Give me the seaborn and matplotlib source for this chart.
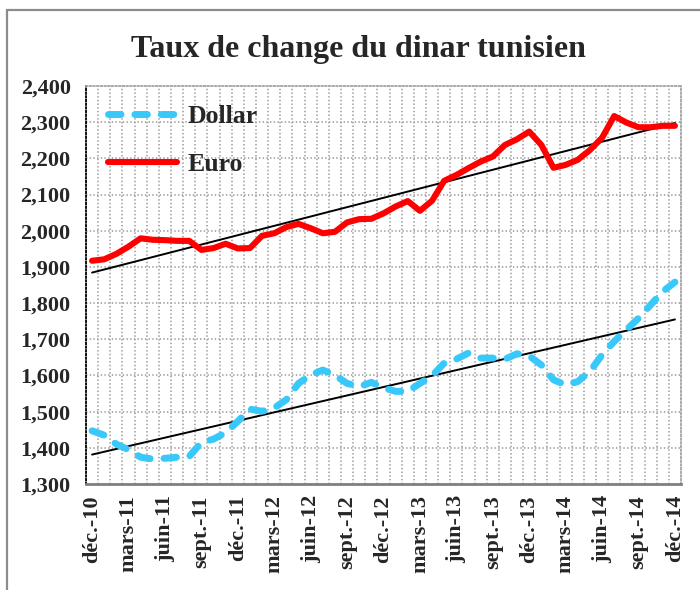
import numpy as np
import pandas as pd
import seaborn as sns
import matplotlib.pyplot as plt
from matplotlib.lines import Line2D
from matplotlib.ticker import FixedLocator, FuncFormatter

# taux mensuels, déc. 2010 -> déc. 2014
dollar = [1447, 1435, 1410, 1395, 1374, 1369, 1371, 1374, 1376, 1415,
          1424, 1442, 1473, 1507, 1501, 1510, 1533, 1578, 1601, 1615,
          1601, 1578, 1569, 1581, 1566, 1556, 1556, 1578, 1599, 1634,
          1645, 1662, 1648, 1648, 1645, 1660, 1654, 1629, 1588, 1574,
          1583, 1611, 1657, 1694, 1726, 1758, 1795, 1832, 1858]
euro = [1917, 1921, 1936, 1956, 1979, 1975, 1974, 1972, 1972, 1947,
        1952, 1964, 1951, 1952, 1986, 1993, 2010, 2019, 2007, 1993,
        1997, 2023, 2032, 2033, 2048, 2067, 2082, 2055, 2083, 2138,
        2154, 2173, 2191, 2205, 2237, 2253, 2274, 2237, 2174, 2182,
        2196, 2223, 2257, 2317, 2299, 2286, 2286, 2290, 2290]
tick_labels = ["déc.-10", "mars-11", "juin-11", "sept.-11", "déc.-11",
               "mars-12", "juin-12", "sept.-12", "déc.-12", "mars-13",
               "juin-13", "sept.-13", "déc.-13", "mars-14", "juin-14",
               "sept.-14", "déc.-14"]

df = pd.DataFrame({"mois": np.arange(len(euro)), "Dollar": dollar, "Euro": euro})

sns.set_style("white")
plt.rcParams['font.family'] = ['Liberation Serif', 'DejaVu Serif']
plt.rcParams['font.weight'] = 'bold'
plt.rcParams['lines.scale_dashes'] = False

fig = plt.figure(figsize=(7, 5.9), dpi=100)
ax = fig.add_axes([86/700, 1-484/590, 595/700, 398/590])

grid_col = '#a6a6a6'
ax.set_xlim(-0.5, len(euro) - 0.5)
ax.set_ylim(1300, 2400)
ax.xaxis.set_minor_locator(FixedLocator(np.arange(-0.5, len(euro), 1)))
ax.xaxis.set_major_locator(FixedLocator(np.arange(0, len(euro), 3)))
ax.set_yticks(np.arange(1300, 2401, 100))
ax.grid(which='minor', axis='x', color=grid_col, linestyle=':', linewidth=1.3)
ax.grid(which='major', axis='y', color=grid_col, linestyle=':', linewidth=1.3)
ax.set_axisbelow(True)

# droites de tendance
sns.regplot(data=df, x="mois", y="Euro", scatter=False, ci=None, ax=ax,
            color='black', line_kws={'linewidth': 1.4})
sns.regplot(data=df, x="mois", y="Dollar", scatter=False, ci=None, ax=ax,
            color='black', line_kws={'linewidth': 1.4})

sns.lineplot(data=df, x="mois", y="Dollar", ax=ax, color='#38c9fa', linewidth=5)
ld = ax.lines[-1]
ld.set_dashes((9, 10))
ld.set_dash_capstyle('round')
sns.lineplot(data=df, x="mois", y="Euro", ax=ax, color='#ff0000', linewidth=4.4)
le = ax.lines[-1]
le.set_solid_capstyle('round')
le.set_solid_joinstyle('round')

ax.set_xticklabels(tick_labels, rotation=90, fontsize=16, fontweight='bold')
ax.yaxis.set_major_formatter(FuncFormatter(lambda v, p: f"{v:,.0f}"))
for t in ax.get_yticklabels():
    t.set_fontsize(16)
    t.set_fontweight('bold')
ax.tick_params(axis='y', which='both', length=0, pad=11)
ax.tick_params(axis='x', which='both', length=0, pad=8)
ax.set_xlabel("")
ax.set_ylabel("")

for s in ['top', 'right']:
    ax.spines[s].set_color(grid_col)
    ax.spines[s].set_linestyle(':')
    ax.spines[s].set_linewidth(1.3)
ax.spines['left'].set_color('black')
ax.spines['left'].set_linestyle(':')
ax.spines['left'].set_linewidth(1.3)
ax.spines['bottom'].set_color('#808080')
ax.spines['bottom'].set_linewidth(2)

h_d = Line2D([], [], color='#38c9fa', linewidth=5, dashes=(9, 10),
             dash_capstyle='round')
h_e = Line2D([], [], color='#ff0000', linewidth=4.4)
ax.legend([h_d, h_e], ["Dollar", "Euro"], loc='upper left',
          bbox_to_anchor=(0.037, 0.952), frameon=False,
          handlelength=2.7, handletextpad=0.4, labelspacing=0.95,
          borderpad=0, borderaxespad=0, prop={'weight': 'bold', 'size': 18.5})

fig.text(358/700, 1-49/590, "Taux de change du dinar tunisien", ha='center',
         va='center', fontsize=23, fontweight='bold')

# cadre extérieur
fig.add_artist(Line2D([7/700, 7/700], [0, 1-10/590], color='#8c8c8c', linewidth=1.6))
fig.add_artist(Line2D([7/700, 1], [1-10/590, 1-10/590], color='#8c8c8c', linewidth=1.6))

fig.savefig("out.png", dpi=100)
